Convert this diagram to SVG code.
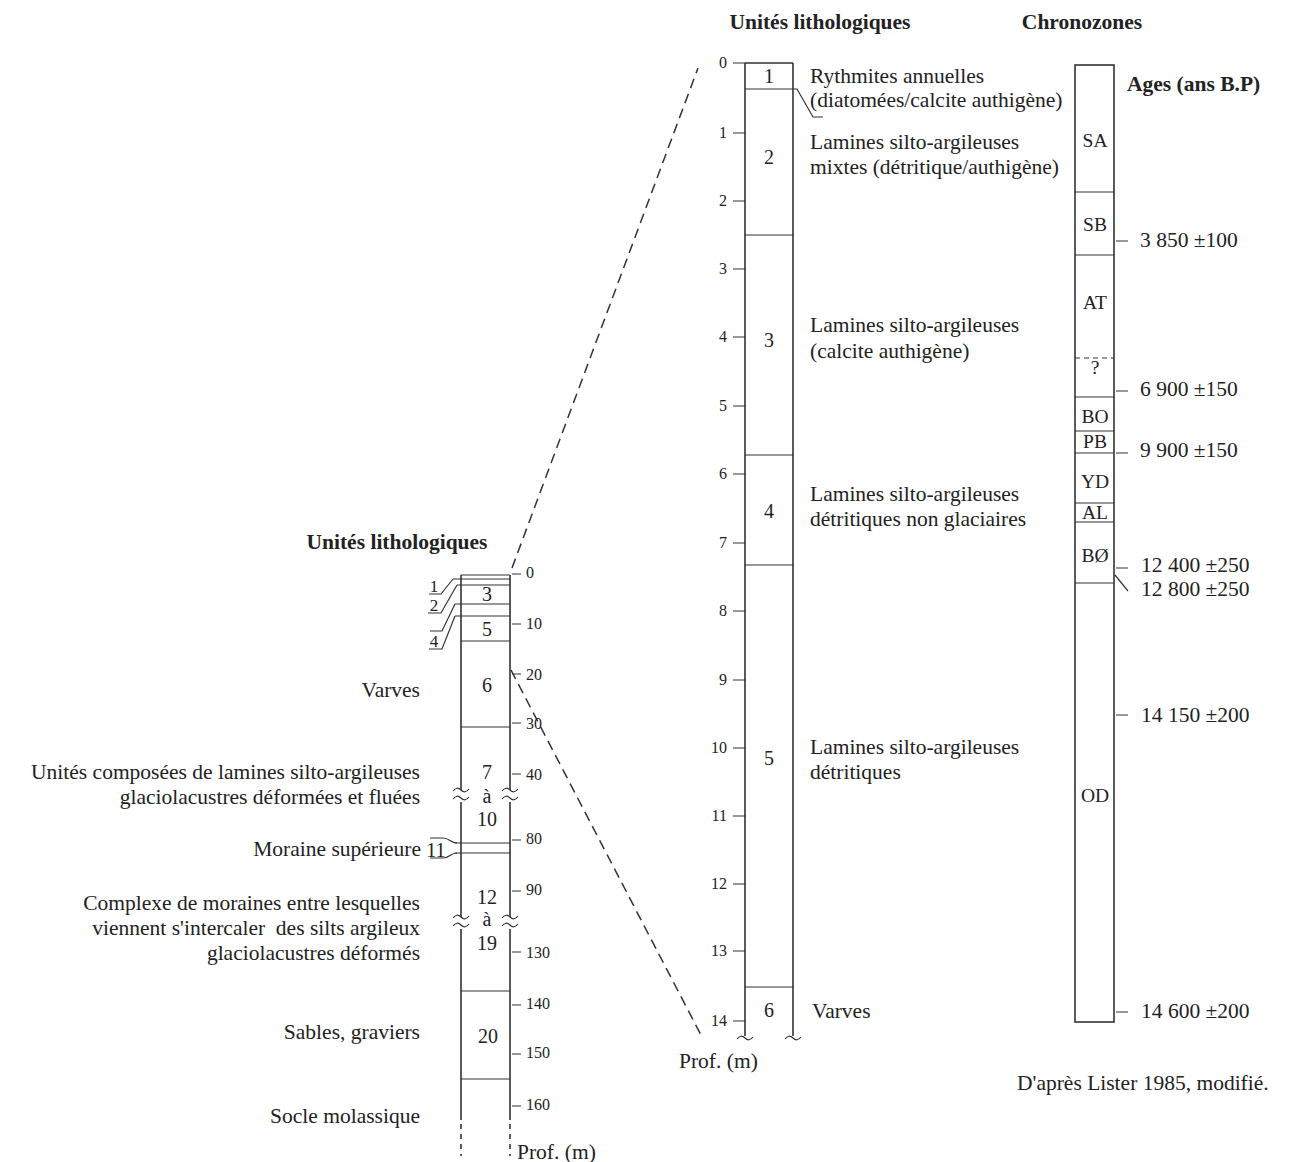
<svg xmlns="http://www.w3.org/2000/svg" width="1294" height="1162" viewBox="0 0 1294 1162">
<style>
text{font-family:"Liberation Serif","Times New Roman",serif;fill:#222}
.t{font-size:21.5px}
.b{font-size:21.5px;font-weight:bold}
.n{font-size:20px;text-anchor:middle}
.s{font-size:17px;text-anchor:middle}
.k{font-size:16px}
.kr{font-size:16px;text-anchor:end}
.r{font-size:21.5px;text-anchor:end}
.c{font-size:19.5px;text-anchor:middle}
.ln{stroke:#333;stroke-width:1.6;fill:none}
.th{stroke:#333;stroke-width:1.2;fill:none}
.d{stroke:#333;stroke-width:1.5;fill:none;stroke-dasharray:10 6}
</style>
<rect width="1294" height="1162" fill="#fff"/>

<!-- titles -->
<text class="b" x="820" y="29" text-anchor="middle">Unités lithologiques</text>
<text class="b" x="1082" y="29" text-anchor="middle">Chronozones</text>
<text class="b" x="1127" y="91">Ages (ans B.P)</text>
<text class="b" x="397" y="549" text-anchor="middle">Unités lithologiques</text>

<!-- connectors -->
<g id="connectors">
<line class="d" x1="512" y1="568" x2="698" y2="68"/>
<line class="d" x1="511" y1="670" x2="702" y2="1037"/>
</g>

<!-- left column -->
<g id="left-column">
<path class="ln" d="M461,575 V790 M461,802 V917 M461,929 V1120 M510,575 V790 M510,802 V917 M510,929 V1120"/>
<path class="ln" d="M461,1124 V1156 M510,1124 V1156" stroke-dasharray="5 5"/>
<path class="th" d="M461,575 H510 M453,579 H510 M457,585 H510 M455,604 H510 M455,616 H510 M461,641 H510 M461,727 H510 M455,843 H510 M455,853 H510 M461,991 H510 M461,1079 H510"/>
<!-- breaks -->
<path class="th" d="M453,791 q4,-5 8,-1 t8,-1 M453,799 q4,-5 8,-1 t8,-1 M502,791 q4,-5 8,-1 t8,-1 M502,799 q4,-5 8,-1 t8,-1"/>
<path class="th" d="M453,918 q4,-5 8,-1 t8,-1 M453,926 q4,-5 8,-1 t8,-1 M502,918 q4,-5 8,-1 t8,-1 M502,926 q4,-5 8,-1 t8,-1"/>
<!-- leaders -->
<path class="th" d="M429,594 H441 L453,579 M428,613 H441 L457,585 M430,631 H442 L455,604 M429,649 H442 L455,616"/>
<path class="th" d="M430,838 H443 C450,838 450,843 457,843 M430,858 H443 C450,858 450,853 457,853"/>
<text class="s" x="434" y="592">1</text>
<text class="s" x="434" y="611">2</text>
<text class="s" x="434" y="647">4</text>
<text class="n" x="436" y="857">11</text>
<!-- unit numbers -->
<text class="n" x="487" y="601">3</text>
<text class="n" x="487" y="636">5</text>
<text class="n" x="487" y="692">6</text>
<text class="n" x="487" y="779">7</text>
<text class="n" x="487" y="803">à</text>
<text class="n" x="487" y="826">10</text>
<text class="n" x="487" y="904">12</text>
<text class="n" x="487" y="926">à</text>
<text class="n" x="487" y="950">19</text>
<text class="n" x="488" y="1043">20</text>
<!-- ticks -->
<path class="th" d="M512,574 H521 M512,624 H521 M512,674 H521 M512,723 H521 M512,774 H521 M512,840 H521 M512,891 H521 M512,952 H521 M512,1005 H521 M512,1054 H521 M512,1106 H521"/>
<text class="k" x="526" y="578">0</text>
<text class="k" x="526" y="629">10</text>
<text class="k" x="526" y="680">20</text>
<text class="k" x="526" y="729">30</text>
<text class="k" x="526" y="780">40</text>
<text class="k" x="526" y="844">80</text>
<text class="k" x="526" y="895">90</text>
<text class="k" x="526" y="958">130</text>
<text class="k" x="526" y="1009">140</text>
<text class="k" x="526" y="1058">150</text>
<text class="k" x="526" y="1110">160</text>
<text class="t" x="517" y="1159">Prof. (m)</text>
<!-- descriptions -->
<text class="r" x="420" y="697">Varves</text>
<text class="r" x="420" y="779">Unités composées de lamines silto-argileuses</text>
<text class="r" x="420" y="804">glaciolacustres déformées et fluées</text>
<text class="r" x="421" y="856">Moraine supérieure</text>
<text class="r" x="420" y="910">Complexe de moraines entre lesquelles</text>
<text class="r" x="420" y="935" xml:space="preserve">viennent s'intercaler  des silts argileux</text>
<text class="r" x="420" y="960">glaciolacustres déformés</text>
<text class="r" x="420" y="1039">Sables, graviers</text>
<text class="r" x="420" y="1123">Socle molassique</text>
</g>

<!-- middle column -->
<g id="middle-column">
<path class="ln" d="M745,63 H793 M745,63 V1036 M793,63 V1036"/>
<path class="th" d="M745,89 H797 L813,117 H823 M745,235 H793 M745,455 H793 M745,565 H793 M745,987 H793"/>
<path class="th" d="M737,1039 q4,-5 8,-1 t8,-1 M785,1039 q4,-5 8,-1 t8,-1"/>
<path class="th" d="M733,63 H745 M733,133 H745 M733,201 H745 M733,269 H745 M733,337 H745 M733,406 H745 M733,474 H745 M733,543 H745 M733,611 H745 M733,680 H745 M733,748 H745 M733,816 H745 M733,884 H745 M733,951 H745 M733,1021 H745"/>
<text class="kr" x="727" y="68">0</text>
<text class="kr" x="727" y="138">1</text>
<text class="kr" x="727" y="206">2</text>
<text class="kr" x="727" y="274">3</text>
<text class="kr" x="727" y="342">4</text>
<text class="kr" x="727" y="411">5</text>
<text class="kr" x="727" y="479">6</text>
<text class="kr" x="727" y="548">7</text>
<text class="kr" x="727" y="616">8</text>
<text class="kr" x="727" y="685">9</text>
<text class="kr" x="727" y="753">10</text>
<text class="kr" x="727" y="821">11</text>
<text class="kr" x="727" y="889">12</text>
<text class="kr" x="727" y="956">13</text>
<text class="kr" x="727" y="1026">14</text>
<text class="t" x="679" y="1068">Prof. (m)</text>
<text class="n" x="769" y="83">1</text>
<text class="n" x="769" y="164">2</text>
<text class="n" x="769" y="347">3</text>
<text class="n" x="769" y="518">4</text>
<text class="n" x="769" y="765">5</text>
<text class="n" x="769" y="1017">6</text>
<text class="t" x="810" y="83">Rythmites annuelles</text>
<text class="t" x="810" y="107">(diatomées/calcite authigène)</text>
<text class="t" x="810" y="149">Lamines silto-argileuses</text>
<text class="t" x="810" y="174">mixtes (détritique/authigène)</text>
<text class="t" x="810" y="332">Lamines silto-argileuses</text>
<text class="t" x="810" y="358">(calcite authigène)</text>
<text class="t" x="810" y="501">Lamines silto-argileuses</text>
<text class="t" x="810" y="526">détritiques non glaciaires</text>
<text class="t" x="810" y="754">Lamines silto-argileuses</text>
<text class="t" x="810" y="779">détritiques</text>
<text class="t" x="812" y="1018">Varves</text>
</g>

<!-- chronozones -->
<g id="chronozones">
<rect class="ln" x="1075" y="65" width="39" height="957"/>
<path class="th" d="M1075,192 H1114 M1075,255 H1114 M1075,397 H1114 M1075,431 H1114 M1075,453 H1114 M1075,503 H1114 M1075,522 H1114 M1075,583 H1114"/>
<path class="th" d="M1075,358 H1114" stroke-dasharray="5 4"/>
<text class="c" x="1095" y="147">SA</text>
<text class="c" x="1095" y="231">SB</text>
<text class="c" x="1095" y="309">AT</text>
<text class="c" x="1095" y="374" font-size="16">?</text>
<text class="c" x="1095" y="423">BO</text>
<text class="c" x="1095" y="448">PB</text>
<text class="c" x="1095" y="488">YD</text>
<text class="c" x="1095" y="519">AL</text>
<text class="c" x="1095" y="562">BØ</text>
<text class="c" x="1095" y="802">OD</text>
</g>

<!-- ages -->
<g id="ages">
<path class="th" d="M1116,241 H1128 M1116,391 H1128 M1116,453 H1128 M1116,568 H1128 M1115,575 L1128,591 M1116,715 H1128 M1116,1012 H1128"/>
<text class="t" x="1140" y="247">3 850 ±100</text>
<text class="t" x="1140" y="396">6 900 ±150</text>
<text class="t" x="1140" y="457">9 900 ±150</text>
<text class="t" x="1141" y="572">12 400 ±250</text>
<text class="t" x="1141" y="596">12 800 ±250</text>
<text class="t" x="1141" y="722">14 150 ±200</text>
<text class="t" x="1141" y="1018">14 600 ±200</text>
</g>

<text class="t" x="1017" y="1090">D'après Lister 1985, modifié.</text>
</svg>
